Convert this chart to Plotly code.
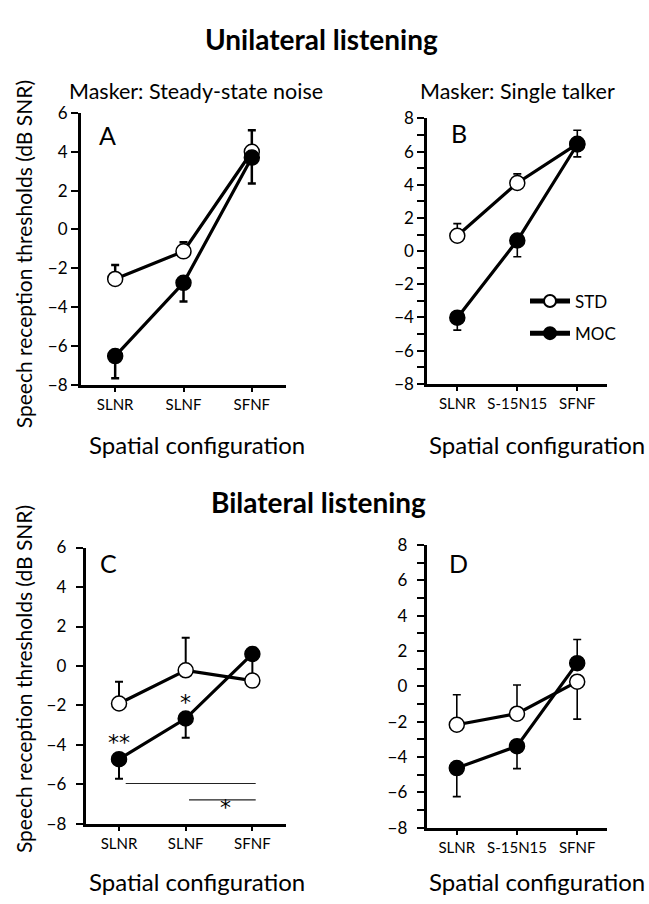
import plotly.graph_objects as go

# ---- data -------------------------------------------------------------
cats_abc = ["SLNR", "SLNF", "SFNF"]
cats_bd = ["SLNR", "S-15N15", "SFNF"]

# Panel A: unilateral, steady-state noise
std_A = [-2.55, -1.13, 4.00]
std_A_up = [0.72, 0.47, 1.10]
std_A_dn = [0, 0, 0]
moc_A = [-6.52, -2.75, 3.70]
moc_A_up = [0, 0, 0]
moc_A_dn = [1.14, 0.96, 1.34]

# Panel B: unilateral, single talker
std_B = [0.93, 4.11, 6.47]
std_B_up = [0.73, 0.55, 0.82]
std_B_dn = [0, 0, 0]
moc_B = [-4.01, 0.64, 6.43]
moc_B_up = [0, 0, 0]
moc_B_dn = [0.75, 0.98, 0.75]

# Panel C: bilateral, steady-state noise
std_C = [-1.90, -0.22, -0.74]
std_C_up = [1.10, 1.65, 1.30]
std_C_dn = [0, 0, 0]
moc_C = [-4.72, -2.66, 0.61]
moc_C_up = [0, 0, 0]
moc_C_dn = [0.99, 0.97, 0]

# Panel D: bilateral, single talker
std_D = [-2.18, -1.55, 0.26]
std_D_up = [1.70, 1.62, 0]
std_D_dn = [0, 0, 2.12]
moc_D = [-4.63, -3.39, 1.31]
moc_D_up = [0, 0, 1.34]
moc_D_dn = [1.62, 1.27, 0]

# significance markers in panel C: (text, x position, y value)
sig_text_C = [("**", 0.0, -3.85), ("*", 1.0, -1.85), ("*", 1.6, -7.15)]
# significance brackets in panel C: (x start, x end, y value)
sig_lines_C = [(0.1, 2.05, -5.95), (1.05, 2.05, -6.78)]

FONT = "Lato"

panels = [
    dict(letter="A", cats=cats_abc, yr=(-8, 6), ew=2.5,
         std=(std_A, std_A_up, std_A_dn), moc=(moc_A, moc_A_up, moc_A_dn),
         dom_x=(81 / 649, 286 / 649), dom_y=(1 - 382.7 / 904, 1 - 104.3 / 904),
         lpos=(0.08, 0.92)),
    dict(letter="B", cats=cats_bd, yr=(-8, 8), ew=1.6,
         std=(std_B, std_B_up, std_B_dn), moc=(moc_B, moc_B_up, moc_B_dn),
         dom_x=(427.3 / 649, 607.3 / 649), dom_y=(1 - 381.7 / 904, 1 - 110 / 904),
         lpos=(0.12, 0.945)),
    dict(letter="C", cats=cats_abc, yr=(-8, 6), ew=2.0,
         std=(std_C, std_C_up, std_C_dn), moc=(moc_C, moc_C_up, moc_C_dn),
         dom_x=(85.7 / 649, 285.7 / 649), dom_y=(1 - 832.3 / 904, 1 - 549.3 / 904),
         lpos=(0.06, 0.945)),
    dict(letter="D", cats=cats_bd, yr=(-8, 8), ew=1.6,
         std=(std_D, std_D_up, std_D_dn), moc=(moc_D, moc_D_up, moc_D_dn),
         dom_x=(426.7 / 649, 607.3 / 649), dom_y=(1 - 836 / 904, 1 - 546.7 / 904),
         lpos=(0.11, 0.937)),
]


def ax_id(letter, n):
    return letter if n == 1 else f"{letter}{n}"


fig = go.Figure()
layout = {}
annotations = []
shapes = []

for i, p in enumerate(panels, start=1):
    xa, ya = ax_id("x", i), ax_id("y", i)
    xpos = list(range(len(p["cats"])))
    ymin, ymax = p["yr"]

    for name, (vals, up, dn), fill in (("STD", p["std"], "white"),
                                       ("MOC", p["moc"], "black")):
        fig.add_trace(go.Scatter(
            x=xpos, y=vals, mode="lines+markers", name=name,
            xaxis=xa, yaxis=ya,
            legendgroup=name, showlegend=(p["letter"] == "B"),
            line=dict(color="black", width=3.2),
            marker=dict(size=15, color=fill, line=dict(color="black", width=1.5)),
            error_y=dict(type="data", symmetric=False, array=up, arrayminus=dn,
                         color="black", thickness=p["ew"], width=4),
            hoverinfo="skip",
        ))

    xax = dict(
        domain=list(p["dom_x"]), anchor=ya, range=[-0.5, xpos[-1] + 0.5],
        showline=True, linewidth=3, linecolor="black", showgrid=False, zeroline=False,
        tickmode="array", tickvals=xpos, ticktext=p["cats"], ticks="outside",
        ticklen=4, tickwidth=2, tickcolor="black",
        tickfont=dict(family=FONT, size=15, color="black"),
    )
    yax = dict(
        domain=list(p["dom_y"]), anchor=xa, range=[ymin, ymax],
        showline=True, linewidth=3, linecolor="black", showgrid=False, zeroline=False,
        tickmode="linear", tick0=0, dtick=2, ticks="outside", ticklen=7, tickwidth=2,
        tickcolor="black",
        tickfont=dict(family=FONT, size=17, color="black"),
    )
    if i in (2, 4):
        yax["minor"] = dict(dtick=1, tick0=0, ticks="outside", ticklen=7, tickwidth=2,
                            tickcolor="black", showgrid=False)
    if i in (3, 4):
        yax["ticklabelstandoff"] = 6
    layout["xaxis" if i == 1 else f"xaxis{i}"] = xax
    layout["yaxis" if i == 1 else f"yaxis{i}"] = yax

    annotations.append(dict(
        text=p["letter"], xref=f"{xa} domain", yref=f"{ya} domain",
        x=p["lpos"][0], y=p["lpos"][1], xanchor="left", yanchor="middle",
        showarrow=False, font=dict(family=FONT, size=25, color="black")))

# significance annotations (panel C)
for txt, xv, yv in sig_text_C:
    annotations.append(dict(text=txt, xref="x3", yref="y3", x=xv, y=yv,
                            showarrow=False,
                            font=dict(family="DejaVu Sans", size=22, color="black")))
for x0, x1, yv in sig_lines_C:
    shapes.append(dict(type="line", xref="x3", yref="y3", x0=x0, x1=x1,
                       y0=yv, y1=yv, line=dict(color="#222222", width=1.1)))


# titles and axis labels
def paper_text(text, x, y, size, bold=False, angle=0):
    annotations.append(dict(
        text=f"<b>{text}</b>" if bold else text, xref="paper", yref="paper",
        x=x / 649, y=1 - y / 904, xanchor="center", yanchor="middle",
        showarrow=False, textangle=angle,
        font=dict(family=FONT, size=size, color="black")))


paper_text("Unilateral listening", 321, 29, 28, bold=True)
paper_text("Bilateral listening", 318, 503, 28, bold=True)
paper_text("Masker: Steady-state noise", 196, 82, 21.5)
paper_text("Masker: Single talker", 517, 82, 21.5)
for yc in (444, 891):
    paper_text("Spatial configuration", 196.5, yc, 24)
    paper_text("Spatial configuration", 536.5, yc, 24)
paper_text("Speech reception thresholds (dB SNR)", 23, 249, 21, angle=-90)
paper_text("Speech reception thresholds (dB SNR)", 23, 684, 21, angle=-90)

fig.update_layout(
    width=649, height=904,
    margin=dict(l=0, r=0, t=0, b=0),
    paper_bgcolor="white", plot_bgcolor="white",
    font=dict(family=FONT, color="black"),
    annotations=annotations, shapes=shapes,
    showlegend=True,
    legend=dict(x=525 / 649, y=1 - 279 / 904, xanchor="left", yanchor="top",
                bgcolor="rgba(0,0,0,0)", font=dict(family=FONT, size=17, color="black"),
                itemsizing="constant", tracegroupgap=7, itemwidth=40),
    **layout,
)

fig.write_html("out.html")
